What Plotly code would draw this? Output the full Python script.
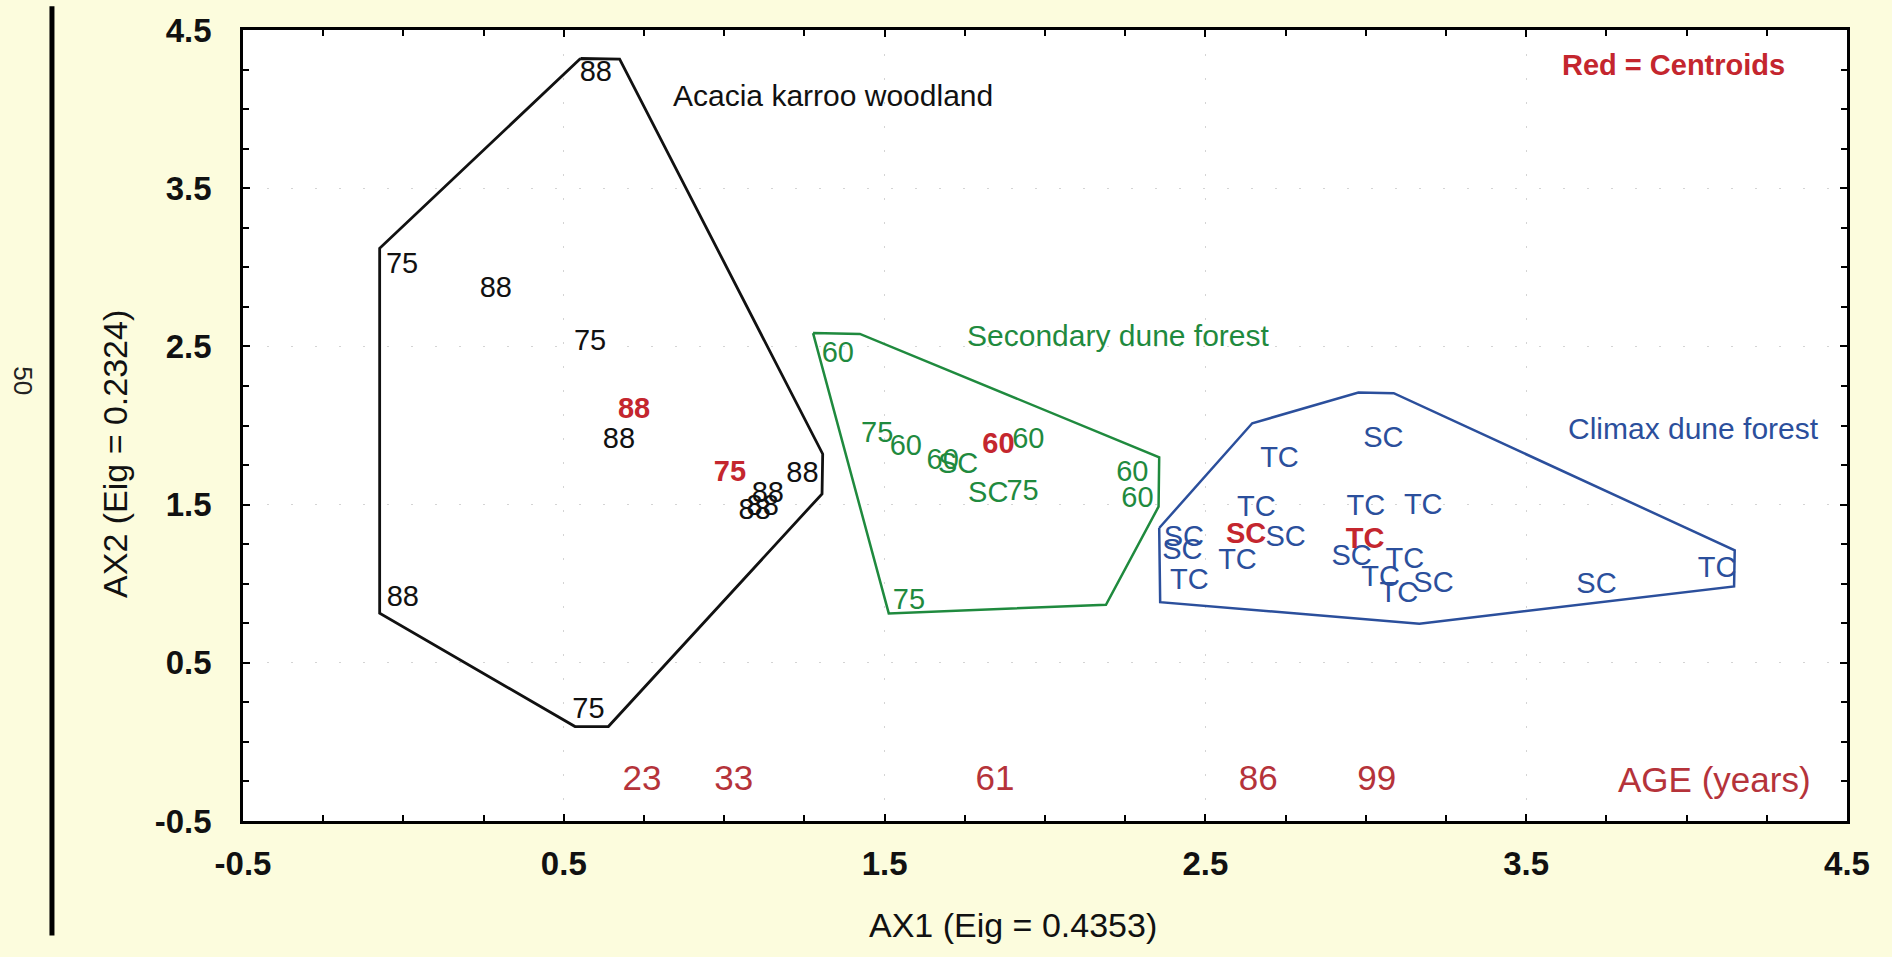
import plotly.graph_objects as go

# ---- Acacia karroo woodland (black) ----
acacia_x = [0.600, -0.004, 0.288, 0.582, 0.672, 1.244, 1.136, 1.095, 1.120, -0.002, 0.577]
acacia_y = [4.221, 3.010, 2.855, 2.523, 1.906, 1.689, 1.560, 1.455, 1.481, 0.905, 0.199]
acacia_lbl = ["88", "75", "88", "75", "88", "88", "88", "88", "88", "88", "75"]
acacia_cx = [0.719, 1.018]
acacia_cy = [2.091, 1.696]
acacia_clbl = ["88", "75"]
acacia_hull_x = [0.552, 0.674, 1.307, 1.305, 0.639, 0.535, -0.074, -0.074, 0.552]
acacia_hull_y = [4.320, 4.316, 1.820, 1.568, 0.097, 0.097, 0.814, 3.120, 4.320]

# ---- Secondary dune forest (green) ----
second_x = [1.354, 1.477, 1.566, 1.681, 1.729, 1.948, 1.823, 1.930, 2.272, 2.288, 1.576]
second_y = [2.450, 1.943, 1.862, 1.769, 1.747, 1.903, 1.560, 1.574, 1.692, 1.531, 0.886]
second_lbl = ["60", "75", "60", "60", "SC", "60", "SC", "75", "60", "60", "75"]
second_cx = [1.855]
second_cy = [1.872]
second_clbl = ["60"]
second_hull_x = [1.277, 1.423, 2.356, 2.354, 2.190, 1.513, 1.277]
second_hull_y = [2.584, 2.579, 1.799, 1.487, 0.867, 0.812, 2.584]

# ---- Climax dune forest (blue) ----
climax_x = [3.055, 2.731, 2.659, 3.000, 3.179, 2.750, 2.433, 2.428, 2.600, 2.450,
            2.956, 3.122, 3.046, 3.103, 3.211, 3.719, 4.095]
climax_y = [1.913, 1.781, 1.471, 1.482, 1.489, 1.287, 1.283, 1.203, 1.136, 1.015,
            1.166, 1.144, 1.030, 0.932, 0.996, 0.986, 1.088]
climax_lbl = ["SC", "TC", "TC", "TC", "TC", "SC", "SC", "SC", "TC", "TC",
              "SC", "TC", "TC", "TC", "SC", "SC", "TC"]
climax_cx = [2.627, 2.998]
climax_cy = [1.306, 1.269]
climax_clbl = ["SC", "TC"]
climax_hull_x = [2.356, 2.646, 2.977, 3.087, 4.150, 4.148, 3.167, 2.359, 2.356]
climax_hull_y = [1.352, 2.014, 2.208, 2.204, 1.211, 0.983, 0.747, 0.883, 1.352]

# ---- Stand age along the first axis ----
age_x = [0.744, 1.030, 1.844, 2.665, 3.034]
age_y = [-0.25, -0.25, -0.25, -0.25, -0.25]
age_lbl = ["23", "33", "61", "86", "99"]

# ---- Axes ----
tick_vals = [-0.5, 0.5, 1.5, 2.5, 3.5, 4.5]
tick_text = ["-0.5", "0.5", "1.5", "2.5", "3.5", "4.5"]

FONT = "Liberation Sans, Arial, Helvetica, sans-serif"
BLACK = "#111111"
GREEN = "#1f8a3e"
BLUE = "#2b4f9c"
RED = "#c4262e"
AGE_RED = "#b5333a"
LBL_SIZE = 29

fig = go.Figure()

groups = [
    (acacia_hull_x, acacia_hull_y, acacia_x, acacia_y, acacia_lbl,
     acacia_cx, acacia_cy, acacia_clbl, BLACK, 2.8),
    (second_hull_x, second_hull_y, second_x, second_y, second_lbl,
     second_cx, second_cy, second_clbl, GREEN, 2.5),
    (climax_hull_x, climax_hull_y, climax_x, climax_y, climax_lbl,
     climax_cx, climax_cy, climax_clbl, BLUE, 2.5),
]

for hx, hy, px, py, pl, cx, cy, cl, col, lw in groups:
    fig.add_trace(go.Scatter(x=hx, y=hy, mode="lines",
                             line=dict(color=col, width=lw),
                             hoverinfo="skip", showlegend=False))
    fig.add_trace(go.Scatter(x=px, y=py, mode="text", text=pl,
                             textposition="middle center",
                             textfont=dict(family=FONT, size=LBL_SIZE, color=col),
                             showlegend=False))
    fig.add_trace(go.Scatter(x=cx, y=cy, mode="text", text=cl,
                             textposition="middle center",
                             textfont=dict(family=FONT, size=LBL_SIZE, color=RED,
                                           weight="bold"),
                             showlegend=False))

fig.add_trace(go.Scatter(x=age_x, y=age_y, mode="text", text=age_lbl,
                         textposition="middle center",
                         textfont=dict(family=FONT, size=35, color=AGE_RED),
                         showlegend=False))

annotations = [
    dict(x=0.835, y=4.084, text="Acacia karroo woodland", color=BLACK),
    dict(x=1.752, y=2.568, text="Secondary dune forest", color=GREEN),
    dict(x=3.624, y=1.981, text="Climax dune forest", color=BLUE),
]
for a in annotations:
    fig.add_annotation(x=a["x"], y=a["y"], xref="x", yref="y", text=a["text"],
                       showarrow=False, xanchor="left", yanchor="middle",
                       font=dict(family=FONT, size=30, color=a["color"]))

fig.add_annotation(x=3.604, y=4.28, xref="x", yref="y", text="<b>Red = Centroids</b>",
                   showarrow=False, xanchor="left", yanchor="middle",
                   font=dict(family=FONT, size=29, color=RED))
fig.add_annotation(x=3.779, y=-0.235, xref="x", yref="y", text="AGE (years)",
                   showarrow=False, xanchor="left", yanchor="middle",
                   font=dict(family=FONT, size=35, color=AGE_RED))

# axis titles
fig.add_annotation(x=0.48, y=-0.131, xref="paper", yref="paper",
                   text="AX1 (Eig = 0.4353)", showarrow=False,
                   xanchor="center", yanchor="middle",
                   font=dict(family=FONT, size=34, color=BLACK))
fig.add_annotation(x=-0.0798, y=0.464, xref="paper", yref="paper",
                   text="AX2 (Eig = 0.2324)", showarrow=False, textangle=-90,
                   xanchor="center", yanchor="middle",
                   font=dict(family=FONT, size=34, color=BLACK))

# page margin rule and page number
fig.add_shape(type="line", xref="paper", yref="paper",
              x0=-0.1191, x1=-0.1191, y0=-0.1446, y1=1.03,
              line=dict(color="#000000", width=5))
fig.add_annotation(x=-0.1372, y=0.556, xref="paper", yref="paper", text="50",
                   showarrow=False, textangle=90, xanchor="center", yanchor="middle",
                   font=dict(family=FONT, size=26, color="#222222"))

axis_common = dict(
    tickvals=tick_vals, ticktext=tick_text,
    ticks="inside", ticklen=7, tickwidth=1.5, tickcolor="#000000",
    minor=dict(dtick=0.25, tick0=-0.5, ticks="inside", ticklen=6,
               tickwidth=1.5, tickcolor="#000000", showgrid=False),
    showline=True, linecolor="#000000", linewidth=2.5, mirror="ticks",
    showgrid=True, gridcolor="#d4d4d4", gridwidth=1.2, griddash="2px,22px",
    zeroline=False,
    tickfont=dict(family=FONT, size=33, color="#111111", weight="bold"),
)

fig.update_xaxes(range=[-0.5, 4.5], ticklabelstandoff=12, **axis_common)
fig.update_yaxes(range=[-0.5, 4.5], ticklabelstandoff=22, **axis_common)

fig.update_layout(
    width=1892, height=957,
    margin=dict(l=243, r=45, t=19, b=136),
    paper_bgcolor="#fcfcdd",
    plot_bgcolor="#ffffff",
    showlegend=False,
    font=dict(family=FONT),
)

fig.write_html("out.html")
